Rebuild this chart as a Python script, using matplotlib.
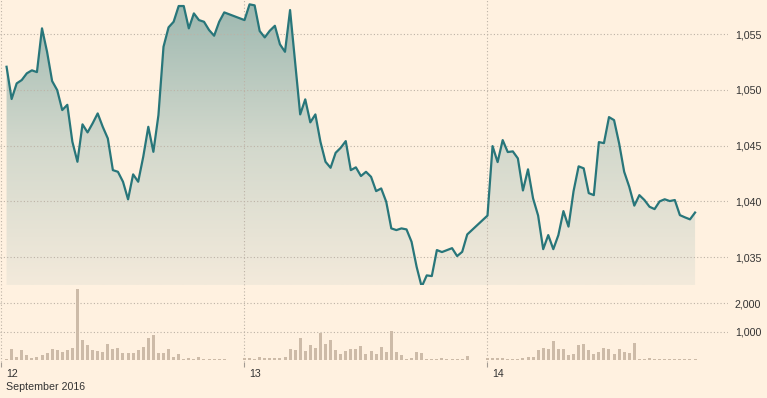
import numpy as np
import pandas as pd
import matplotlib
matplotlib.use('Agg')
import matplotlib.pyplot as plt
import matplotlib.dates as mdates
import matplotlib.transforms as mtransforms
from matplotlib.colors import LinearSegmentedColormap

plt.rcParams['font.family'] = ['Liberation Sans', 'DejaVu Sans']
plt.rcParams['font.size'] = 7.7

# half-hourly index level, 12-14 September 2016
price_12 = [1052.07, 1049.18, 1050.58, 1050.88, 1051.48, 1051.75, 1051.59, 1055.51, 1053.41, 1050.79,
            1049.98, 1048.19, 1048.66, 1045.35, 1043.56, 1046.91, 1046.19, 1047.00, 1047.89, 1046.69,
            1045.65, 1042.81, 1042.66, 1041.77, 1040.19, 1042.43, 1041.77, 1044.01, 1046.69, 1044.45,
            1047.74, 1053.86, 1055.60, 1056.10, 1057.51, 1057.51, 1055.51, 1056.85, 1056.25, 1056.10,
            1055.36, 1054.85, 1056.10, 1056.94]
price_13 = [1056.25, 1057.66, 1057.57, 1055.27, 1054.70, 1055.30, 1055.74, 1054.08, 1053.41, 1057.15,
            1052.49, 1047.80, 1049.15, 1047.09, 1047.80, 1045.35, 1043.56, 1043.02, 1044.36, 1044.81,
            1045.41, 1042.81, 1043.06, 1042.28, 1042.66, 1042.21, 1040.93, 1041.17, 1039.97, 1037.59,
            1037.44, 1037.59, 1037.50, 1036.39, 1034.15, 1032.36, 1033.38, 1033.32, 1035.65, 1035.47,
            1035.65, 1035.82, 1035.11, 1035.49, 1037.05]
price_14 = [1038.74, 1044.96, 1043.53, 1045.50, 1044.43, 1044.49, 1043.86, 1040.99, 1042.88, 1040.28,
            1038.74, 1035.73, 1036.99, 1035.73, 1036.99, 1039.14, 1037.75, 1040.93, 1043.15, 1042.97,
            1040.75, 1040.57, 1045.32, 1045.23, 1047.56, 1047.29, 1045.21, 1042.66, 1041.32, 1039.63,
            1040.57, 1040.13, 1039.53, 1039.32, 1040.01, 1040.20, 1040.04, 1040.13, 1038.78, 1038.58,
            1038.40, 1039.01]

volume_12 = [47, 376, 118, 341, 165, 71, 118, 165, 235, 376,
             341, 282, 341, 412, 2493, 694, 517, 341, 306, 282,
             553, 376, 412, 235, 235, 259, 341, 447, 764, 870,
             235, 235, 376, 106, 200, 47, 71, 47, 118, 47,
             47, 47, 47, 47]
volume_13 = [71, 59, 47, 118, 82, 59, 59, 82, 118, 376,
             341, 764, 306, 517, 412, 964, 553, 694, 341, 200,
             306, 376, 376, 482, 200, 306, 200, 447, 270, 1011,
             270, 165, 24, 59, 270, 235, 47, 24, 24, 82,
             47, 24, 24, 24, 129]
volume_14 = [71, 71, 82, 82, 47, 47, 47, 71, 118, 118,
             341, 412, 376, 659, 376, 376, 165, 200, 517, 553,
             341, 200, 270, 412, 376, 200, 376, 270, 235, 588,
             47, 47, 82, 47, 47, 47, 47, 47, 24, 47,
             47, 47]

times_12 = pd.date_range('2016-09-12 00:30', periods=len(price_12), freq='30min')
times_13 = pd.date_range('2016-09-13 00:00', periods=len(price_13), freq='30min')
times_14 = pd.date_range('2016-09-14 00:00', periods=len(price_14), freq='30min')

day_ticks = pd.to_datetime(['2016-09-12', '2016-09-13', '2016-09-14'])
day_labels = ['12', '13', '14']
price_ticks = [1035, 1040, 1045, 1050, 1055]
volume_ticks = [1000, 2000]

BG = '#fff1e0'
LINE = '#28767a'
BAR = '#cdbba8'
GRID = '#bdb2a6'
TEXT = '#333333'

t = mdates.date2num(np.concatenate([times_12, times_13, times_14]))
price = np.array(price_12 + price_13 + price_14)
volume = np.array(volume_12 + volume_13 + volume_14)
ticks = mdates.date2num(day_ticks)

W, H = 767, 398
fig = plt.figure(figsize=(W / 100, H / 100), dpi=100, facecolor=BG)
ax = fig.add_axes([0, 1 - 285 / H, 728 / W, 285 / H])
axv = fig.add_axes([0, 1 - 362 / H, 728 / W, 77 / H], sharex=ax)

px_day = 243.0
x0 = ticks[0] - 1.5 / px_day
x1 = x0 + 728 / px_day
y0, y1 = 1032.52, 1058.05

for a in (ax, axv):
    a.set_facecolor(BG)
    for s in a.spines.values():
        s.set_visible(False)
    a.set_axisbelow(True)
    a.grid(True, color=GRID, lw=0.8, ls=(0, (1, 2)))

# gradient fill under the line
grad = LinearSegmentedColormap.from_list('g', ['#9db8b0', '#d2d8cc', '#f3eadb'])
poly = ax.fill_between(t, price, y0, facecolor='none', edgecolor='none')
im = ax.imshow(np.linspace(0, 1, 256).reshape(-1, 1), cmap=grad, aspect='auto',
               extent=[x0, x1, y0, y1], zorder=0.1, interpolation='bilinear')
im.set_clip_path(poly.get_paths()[0], transform=ax.transData)
ax.plot(t, price, color=LINE, lw=1.6, solid_joinstyle='round', zorder=3)

axv.bar(t, volume, width=3 / px_day, color=BAR, zorder=2)

ax.set_xlim(x0, x1)
ax.set_ylim(y0, y1)
axv.set_ylim(-70, 2645)

ax.set_yticks(price_ticks)
ax.set_yticklabels([f'{v:,}' for v in price_ticks])
axv.set_yticks(volume_ticks)
axv.set_yticklabels([f'{v:,}' for v in volume_ticks])
for a in (ax, axv):
    a.yaxis.tick_right()
    a.tick_params(axis='y', length=0, pad=5, labelcolor=TEXT, labelsize=7.7)

axv.set_xticks(ticks)
axv.set_xticklabels(day_labels)
ax.tick_params(axis='x', length=0, labelbottom=False)
axv.tick_params(axis='x', length=3.8, width=0.8, color='#a39b93', pad=1.5,
                labelcolor=TEXT, labelsize=7.7)
shift = mtransforms.ScaledTranslation(3.5 / 72, 0, fig.dpi_scale_trans)
for lab in axv.get_xticklabels():
    lab.set_ha('left')
    lab.set_transform(lab.get_transform() + shift)

fig.text(6 / W, 1 - 387 / H, 'September 2016', ha='left', va='center',
         color=TEXT, fontsize=7.7)

fig.savefig('out.png', dpi=100, facecolor=BG)
